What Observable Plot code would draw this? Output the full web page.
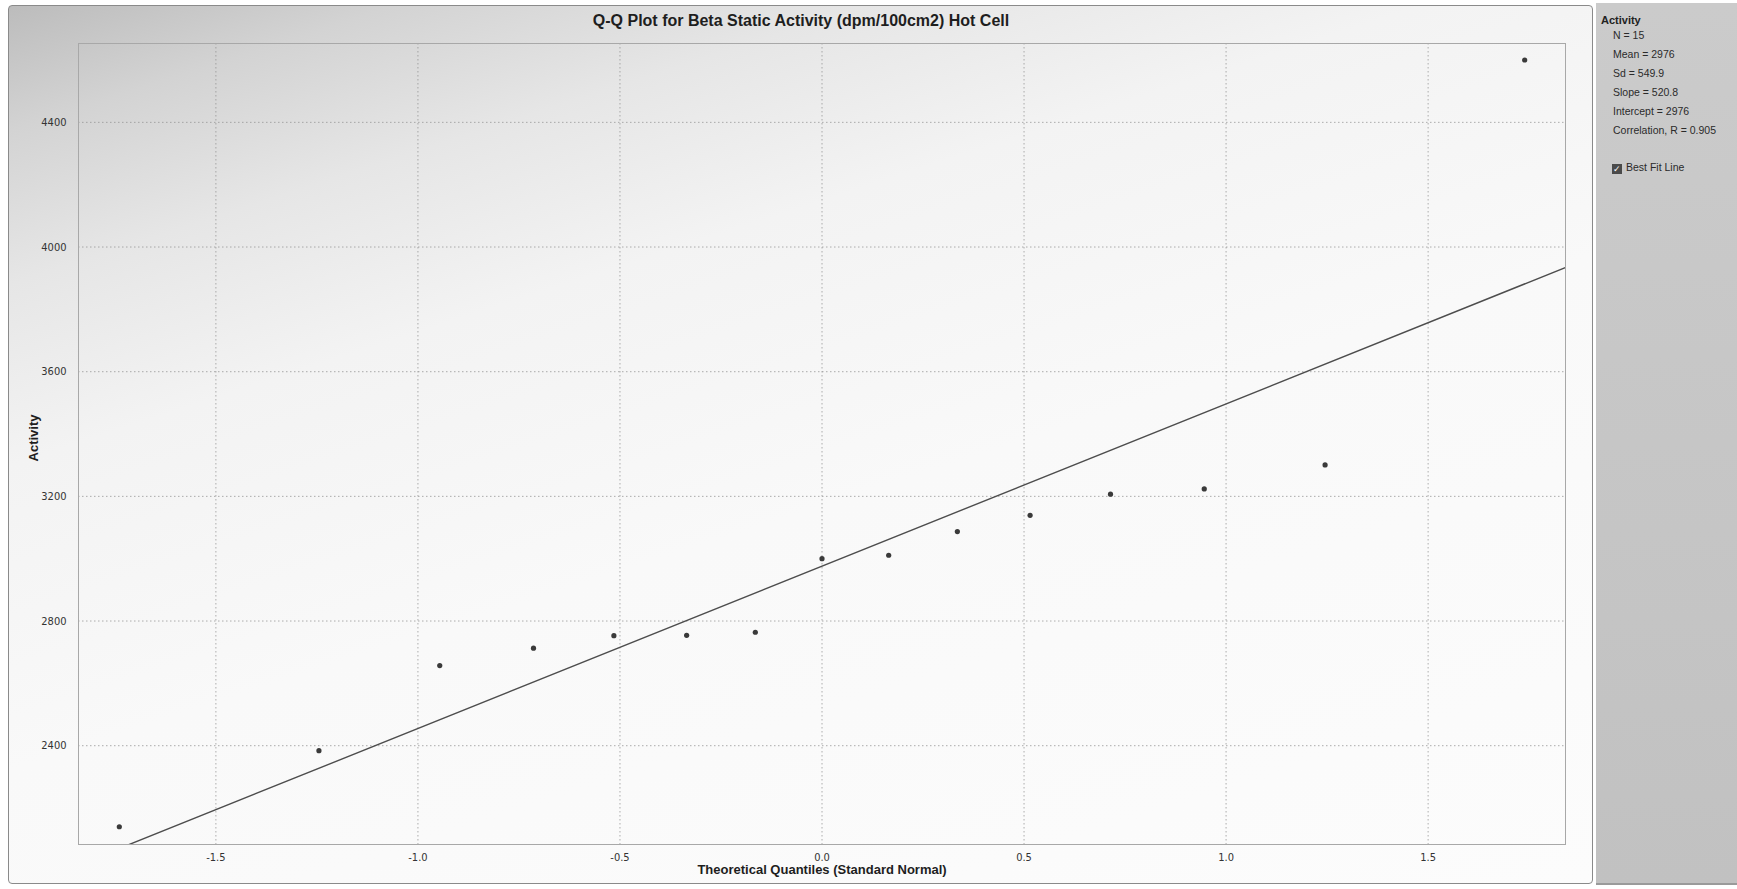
<!DOCTYPE html>
<html><head><meta charset="utf-8">
<script src="https://cdn.jsdelivr.net/npm/d3@7"></script>
<script src="https://cdn.jsdelivr.net/npm/@observablehq/plot@0.6"></script>
<style>
body{margin:0;background:#fff;}
#wrap{position:relative;width:1737px;height:889px;overflow:hidden;font-family:"Liberation Sans",Arial,sans-serif;background:#fff;}
#frame{position:absolute;left:8px;top:5px;width:1583px;height:877px;border:1px solid #8a8a8a;border-radius:4px;
  background:linear-gradient(162deg,#bcbcbc 0%,#d3d3d3 9%,#e6e6e6 20%,#f3f3f3 33%,#f9f9f9 55%,#fcfcfc 100%);}
#title{position:absolute;left:8px;width:1586px;top:12px;text-align:center;font-weight:bold;font-size:16px;color:#1e1e1e;}
#chart{position:absolute;left:0;top:0;}
#legend{position:absolute;left:1596px;top:3px;width:141px;height:880px;background:linear-gradient(180deg,#cbcbcb 0%,#c1c1c1 100%);border-bottom:2px solid #9a9a9a;}
#legend .head{position:absolute;left:5px;top:11px;font-weight:bold;font-size:11px;color:#222;}
#legend .row{position:absolute;left:17px;font-size:10.5px;color:#2a2a2a;white-space:nowrap;}
#legend .cb{position:absolute;left:16px;top:158px;font-size:10.5px;color:#2a2a2a;white-space:nowrap;}
#legend .box{display:inline-block;width:10px;height:10px;background:#4a4a4a;color:#fff;font-size:9px;line-height:10px;text-align:center;vertical-align:-1px;margin-right:4px;}
</style></head>
<body>
<div id="wrap">
  <div id="frame"></div>
  <div id="chart"></div>
  <div id="title"></div>
  <div id="legend"></div>
</div>
<script>
// ---- data ----
const titleText = "Q-Q Plot for Beta Static Activity (dpm/100cm2) Hot Cell";
const xLabel = "Theoretical Quantiles (Standard Normal)";
const yLabel = "Activity";
const quantiles = [-1.739, -1.245, -0.946, -0.714, -0.515, -0.335, -0.165, 0.0, 0.165, 0.335, 0.515, 0.714, 0.946, 1.245, 1.739];
const activity  = [2140, 2384, 2657, 2713, 2753, 2754, 2764, 3000, 3011, 3087, 3139, 3207, 3224, 3301, 4600];
const slope = 520.8;
const intercept = 2976;
const xTicks = [-1.5, -1.0, -0.5, 0.0, 0.5, 1.0, 1.5];
const yTicks = [2400, 2800, 3200, 3600, 4000, 4400];
const xDomain = [-1.84, 1.84];
const yDomain = [2083, 4653];
const legendTitle = "Activity";
const legendRows = ["N = 15", "Mean = 2976", "Sd = 549.9", "Slope = 520.8", "Intercept = 2976", "Correlation, R = 0.905"];
const checkLabel = "Best Fit Line";

// ---- build ----
const points = quantiles.map((q, i) => ({q, a: activity[i]}));
const fitLine = xDomain.map(x => ({x, y: intercept + slope * x}));

const grid = {stroke: "#8c8c8c", strokeOpacity: 0.7, strokeWidth: 1, strokeDasharray: "1.5,2.5"};
const labelFont = "'Liberation Sans',Arial,sans-serif";

const chart = Plot.plot({
  width: 1590, height: 889,
  marginLeft: 78, marginRight: 25, marginTop: 43, marginBottom: 45,
  style: {background: "transparent", fontFamily: "'Liberation Sans Narrow','DejaVu Sans Condensed','Liberation Sans',sans-serif", fontSize: "11px", color: "#333"},
  x: {domain: xDomain, label: null},
  y: {domain: yDomain, label: null},
  marks: [
    Plot.gridX(xTicks, grid),
    Plot.gridY(yTicks, grid),
    Plot.frame({stroke: "#a8a8a8"}),
    Plot.axisX(xTicks, {tickSize: 0, tickPadding: 9, tickFormat: d => d.toFixed(1), label: null}),
    Plot.axisY(yTicks, {tickSize: 0, tickPadding: 12, tickFormat: d => String(d), label: null}),
    Plot.line(fitLine, {x: "x", y: "y", stroke: "#4d4d4d", strokeWidth: 1.4, clip: true}),
    Plot.dot(points, {x: "q", y: "a", r: 2.6, fill: "#3a3a3a", stroke: "none"}),
    Plot.text([xLabel], {frameAnchor: "bottom", dy: 29, text: d => d, textAnchor: "middle", fontWeight: "bold", fontSize: 13, fill: "#1e1e1e", fontFamily: labelFont}),
    Plot.text([yLabel], {frameAnchor: "left", dx: -45, dy: -6, rotate: -90, text: d => d, textAnchor: "middle", fontWeight: "bold", fontSize: 13, fill: "#1e1e1e", fontFamily: labelFont})
  ]
});
document.getElementById("chart").appendChild(chart);
document.getElementById("title").textContent = titleText;

const lg = document.getElementById("legend");
const h = document.createElement("div"); h.className = "head"; h.textContent = legendTitle; lg.appendChild(h);
legendRows.forEach((t, i) => {
  const r = document.createElement("div"); r.className = "row"; r.style.top = (26 + i * 19) + "px"; r.textContent = t; lg.appendChild(r);
});
const cb = document.createElement("div"); cb.className = "cb";
const box = document.createElement("span"); box.className = "box"; box.textContent = "✓";
cb.appendChild(box); cb.appendChild(document.createTextNode(checkLabel)); lg.appendChild(cb);
</script>
</body></html>
